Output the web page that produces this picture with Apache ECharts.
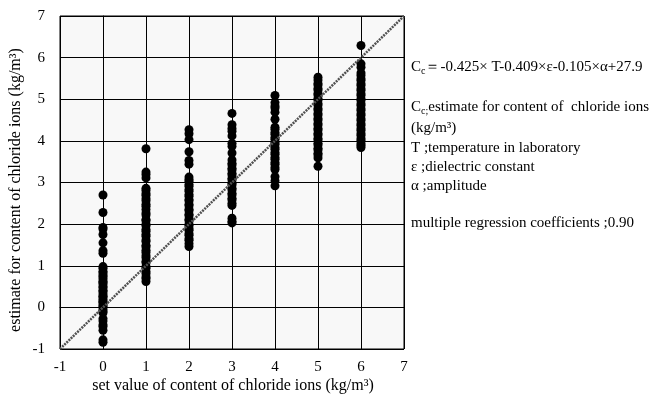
<!DOCTYPE html>
<html>
<head>
<meta charset="utf-8">
<script src="https://cdn.jsdelivr.net/npm/echarts@6/dist/echarts.min.js"></script>
<style>
  html, body { margin: 0; padding: 0; background: #fff; }
  #chart { width: 663px; height: 403px; }
</style>
</head>
<body>
<div id="chart"></div>
<script>
// Set values of chloride-ion content (kg/m3), one column of estimates per set value
const setValues = [0, 1, 2, 3, 4, 5, 6];

const est0 = [2.70, 2.28, 1.92, 1.88, 1.75, 1.55, 1.36, 1.30, 0.98, 0.94, 0.87, 0.83, 0.78, 0.74, 0.69, 0.63, 0.60, 0.56, 0.50, 0.47, 0.41, 0.38, 0.32, 0.27, 0.25, 0.19, 0.14, 0.12, 0.06, 0.03, -0.04, -0.09, -0.13, -0.27, -0.33, -0.42, -0.46, -0.55, -0.78, -0.84];
const est1 = [3.81, 3.25, 3.19, 3.11, 2.86, 2.81, 2.73, 2.69, 2.61, 2.56, 2.48, 2.43, 2.35, 2.27, 2.22, 2.11, 2.08, 2.00, 1.96, 1.87, 1.83, 1.75, 1.71, 1.62, 1.58, 1.49, 1.45, 1.37, 1.32, 1.24, 1.19, 1.11, 1.07, 0.98, 0.94, 0.86, 0.81, 0.73, 0.69, 0.62];
const est2 = [4.27, 4.17, 4.03, 3.74, 3.53, 3.44, 3.13, 3.07, 3.03, 2.95, 2.91, 2.83, 2.79, 2.71, 2.67, 2.59, 2.56, 2.48, 2.44, 2.36, 2.32, 2.24, 2.20, 2.12, 2.08, 2.00, 1.96, 1.89, 1.85, 1.77, 1.73, 1.65, 1.61, 1.53, 1.46];
const est3 = [4.66, 4.39, 4.30, 4.23, 4.12, 3.94, 3.87, 3.71, 3.54, 3.46, 3.42, 3.34, 3.30, 3.22, 3.18, 3.10, 3.06, 2.98, 2.94, 2.86, 2.82, 2.74, 2.70, 2.62, 2.58, 2.50, 2.45, 2.14, 2.07, 2.03];
const est4 = [5.09, 4.92, 4.84, 4.79, 4.69, 4.52, 4.33, 4.28, 4.20, 4.16, 4.08, 4.04, 3.96, 3.92, 3.84, 3.80, 3.72, 3.68, 3.60, 3.56, 3.48, 3.44, 3.36, 3.31, 3.14, 3.04, 2.92];
const est5 = [5.53, 5.46, 5.38, 5.34, 5.26, 5.22, 5.14, 5.10, 5.02, 4.98, 4.90, 4.86, 4.78, 4.74, 4.66, 4.62, 4.54, 4.50, 4.42, 4.38, 4.30, 4.26, 4.18, 4.14, 4.06, 4.02, 3.94, 3.90, 3.82, 3.78, 3.70, 3.66, 3.59, 3.39];
const est6 = [6.29, 5.85, 5.77, 5.63, 5.57, 5.49, 5.45, 5.37, 5.33, 5.25, 5.21, 5.13, 5.09, 5.01, 4.97, 4.89, 4.85, 4.77, 4.73, 4.65, 4.61, 4.53, 4.49, 4.41, 4.37, 4.29, 4.25, 4.17, 4.13, 4.05, 4.01, 3.93, 3.89, 3.84];

// 1:1 reference line ends
const refLine = [[-1, -1], [7, 7]];

// Axis range and tick labels
const axisMin = -1;
const axisMax = 7;
const tickLabels = ['-1', '0', '1', '2', '3', '4', '5', '6', '7'];

const estimates = [est0, est1, est2, est3, est4, est5, est6];
const points = [];
estimates.forEach((col, i) => col.forEach(v => points.push([setValues[i], v])));

const FONT = '"Liberation Serif", "Times New Roman", serif';

const chart = echarts.init(document.getElementById('chart'), null, { renderer: 'canvas' });

const labelFmt = v => tickLabels[Math.round(v) - axisMin];

const noteRich = {
  m: { fontSize: 15, fontFamily: FONT, fill: '#000', lineHeight: 18 },
  s: { fontSize: 10, fontFamily: FONT, fill: '#000', verticalAlign: 'bottom', lineHeight: 10 }
};
const noteText = (y, text) => ({
  type: 'text', x: 411, y: y,
  style: { text: text, fill: '#000', font: '15px ' + FONT, verticalAlign: 'middle' }
});

chart.setOption({
  animation: false,
  backgroundColor: '#ffffff',
  grid: {
    left: 60, top: 16, width: 344, height: 333,
    show: true, backgroundColor: '#f8f8f8', borderColor: '#000', borderWidth: 1
  },
  xAxis: {
    type: 'value', min: axisMin, max: axisMax, interval: 1,
    axisLine: { show: true, lineStyle: { color: '#000', width: 1 } },
    axisTick: { show: false },
    axisLabel: { margin: 11, color: '#000', fontFamily: FONT, fontSize: 15, formatter: labelFmt },
    splitLine: { show: true, lineStyle: { color: '#000', width: 1 } }
  },
  yAxis: {
    type: 'value', min: axisMin, max: axisMax, interval: 1,
    axisLine: { show: true, lineStyle: { color: '#000', width: 1 } },
    axisTick: { show: false },
    axisLabel: { margin: 15, color: '#000', fontFamily: FONT, fontSize: 15, formatter: labelFmt },
    splitLine: { show: true, lineStyle: { color: '#000', width: 1 } }
  },
  series: [
    {
      type: 'line',
      data: refLine,
      symbol: 'none',
      z: 3,
      lineStyle: { color: '#505050', width: 2.5, type: [2, 1] }
    },
    {
      type: 'scatter',
      data: points,
      symbol: 'circle',
      symbolSize: 9,
      z: 2,
      itemStyle: { color: '#000', opacity: 1 }
    }
  ],
  graphic: [
    {
      type: 'text', x: 16, y: 190, rotation: Math.PI / 2,
      style: {
        text: 'estimate for content of chloride ions (kg/m³)',
        fill: '#000', font: '16px ' + FONT, align: 'center', verticalAlign: 'middle'
      }
    },
    {
      type: 'text', x: 233, y: 386,
      style: {
        text: 'set value of content of chloride ions (kg/m³)',
        fill: '#000', font: '16px ' + FONT, align: 'center', verticalAlign: 'middle'
      }
    },
    {
      type: 'text', x: 411, y: 67,
      style: {
        text: '{m|C}{s|c}{m|＝-0.425× T-0.409×ε-0.105×α+27.9}',
        verticalAlign: 'middle',
        rich: noteRich
      }
    },
    {
      type: 'text', x: 411, y: 107,
      style: {
        text: '{m|C}{s|c;}{m|estimate for content of  chloride ions}',
        verticalAlign: 'middle',
        rich: noteRich
      }
    },
    noteText(128, '(kg/m³)'),
    noteText(148, 'T ;temperature in laboratory'),
    noteText(167, 'ε ;dielectric constant'),
    noteText(186, 'α ;amplitude'),
    noteText(223, 'multiple regression coefficients ;0.90')
  ]
});
</script>
</body>
</html>
